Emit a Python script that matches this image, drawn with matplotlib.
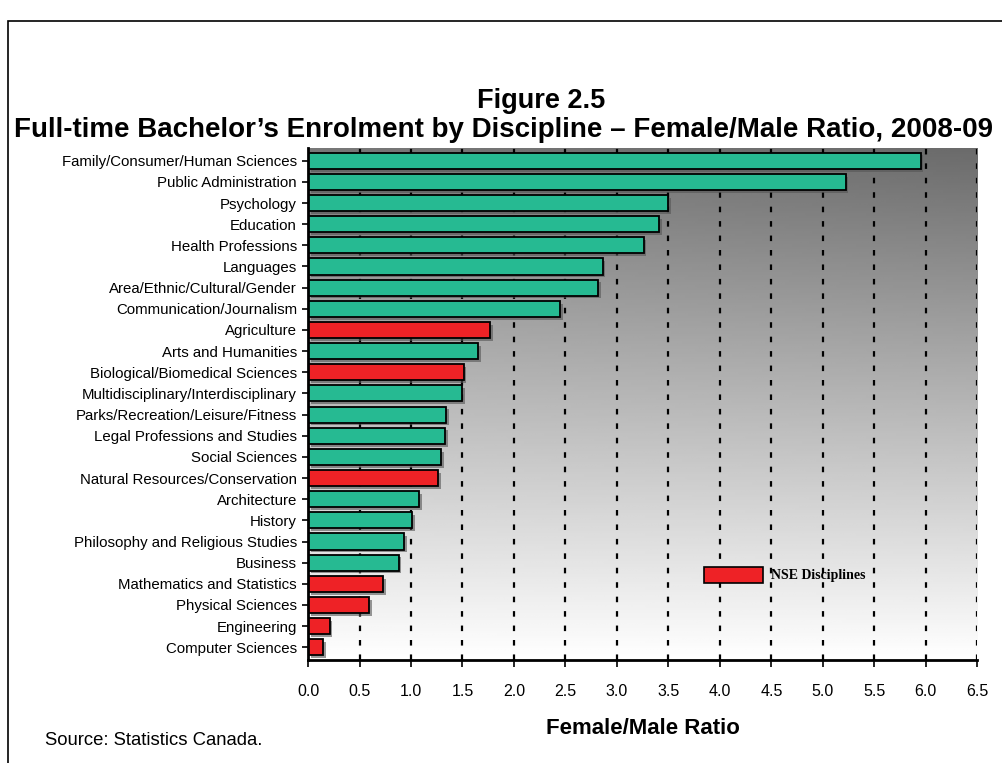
import matplotlib.pyplot as plt
import matplotlib.patheffects as pe
import numpy as np
from matplotlib.patches import Rectangle

plt.rcParams['font.family'] = ['Liberation Sans', 'DejaVu Sans']

disciplines = [
    "Family/Consumer/Human Sciences", "Public Administration", "Psychology",
    "Education", "Health Professions", "Languages", "Area/Ethnic/Cultural/Gender",
    "Communication/Journalism", "Agriculture", "Arts and Humanities",
    "Biological/Biomedical Sciences", "Multidisciplinary/Interdisciplinary",
    "Parks/Recreation/Leisure/Fitness", "Legal Professions and Studies",
    "Social Sciences", "Natural Resources/Conservation", "Architecture", "History",
    "Philosophy and Religious Studies", "Business", "Mathematics and Statistics",
    "Physical Sciences", "Engineering", "Computer Sciences",
]
ratio = [5.95, 5.22, 3.50, 3.41, 3.26, 2.86, 2.82, 2.45, 1.77, 1.65, 1.51, 1.50,
         1.34, 1.33, 1.29, 1.26, 1.08, 1.01, 0.93, 0.88, 0.73, 0.59, 0.21, 0.15]
nse = ["Agriculture", "Biological/Biomedical Sciences", "Natural Resources/Conservation",
       "Mathematics and Statistics", "Physical Sciences", "Engineering", "Computer Sciences"]
x_ticks = np.arange(0, 6.51, 0.5)

green = "#26BA92"
red = "#EE2226"
colors = [red if d in nse else green for d in disciplines]

fig = plt.figure(figsize=(10.02, 7.63), dpi=100)
ax = fig.add_axes([0.3074, 0.135, 0.668, 0.671])

# background gradient (dark top -> white bottom)
yy = np.linspace(0, 1, 200)[:, None]
xx = np.linspace(0, 1, 200)[None, :]
shade = 0.47 + 0.53 * yy - 0.05 * xx * (1 - yy)
ax.imshow(shade, cmap="gray", vmin=0, vmax=1, aspect="auto",
          extent=[0, 6.5, 23.6, -0.6], zorder=0)

for xv in x_ticks[1:]:
    ax.axvline(xv, color="black", linestyle=(0, (2.5, 4)), linewidth=1.6, zorder=1)

y = np.arange(len(disciplines))
ax.barh(y, ratio, height=0.76, color=colors, edgecolor="black", linewidth=1.3,
        zorder=2, path_effects=[pe.SimplePatchShadow(offset=(2, -2), shadow_rgbFace="#555555", alpha=0.6), pe.Normal()])

ax.set_xlim(0, 6.5)
ax.set_ylim(23.6, -0.6)
ax.set_yticks(y)
ax.set_yticklabels(disciplines, fontsize=10.8)
ax.set_xticks(x_ticks)
ax.set_xticklabels([f"{v:.1f}" for v in x_ticks], fontsize=11.5)
ax.tick_params(axis="x", length=5, width=1.2, pad=12)
ax.tick_params(axis="y", length=4, width=1.2, pad=4)
for s in ["top", "right"]:
    ax.spines[s].set_visible(False)
for s in ["left", "bottom"]:
    ax.spines[s].set_linewidth(2)

ax.set_xlabel("Female/Male Ratio", fontsize=16, fontweight="bold", labelpad=14)

# legend
ax.add_patch(Rectangle((3.85, 19.2), 0.57, 0.76, facecolor=red, edgecolor="black",
                       linewidth=1.2, zorder=3))
ax.text(4.5, 19.62, "NSE Disciplines", fontsize=10, fontweight="bold",
        family="Liberation Serif", va="center", ha="left", zorder=3)

fig.text(0.54, 0.867, "Figure 2.5", ha="center", va="center", fontsize=19.5, fontweight="bold")
fig.text(0.502, 0.830, "Full-time Bachelor\u2019s Enrolment by Discipline \u2013 Female/Male Ratio, 2008-09",
         ha="center", va="center", fontsize=20, fontweight="bold")
fig.text(0.045, 0.03, "Source: Statistics Canada.", ha="left", va="center", fontsize=13.3)

fig.add_artist(Rectangle((0.008, -0.1), 1.2, 1.072, transform=fig.transFigure,
                         facecolor="none", edgecolor="black", linewidth=1.2))

fig.savefig("out.png", dpi=100)
